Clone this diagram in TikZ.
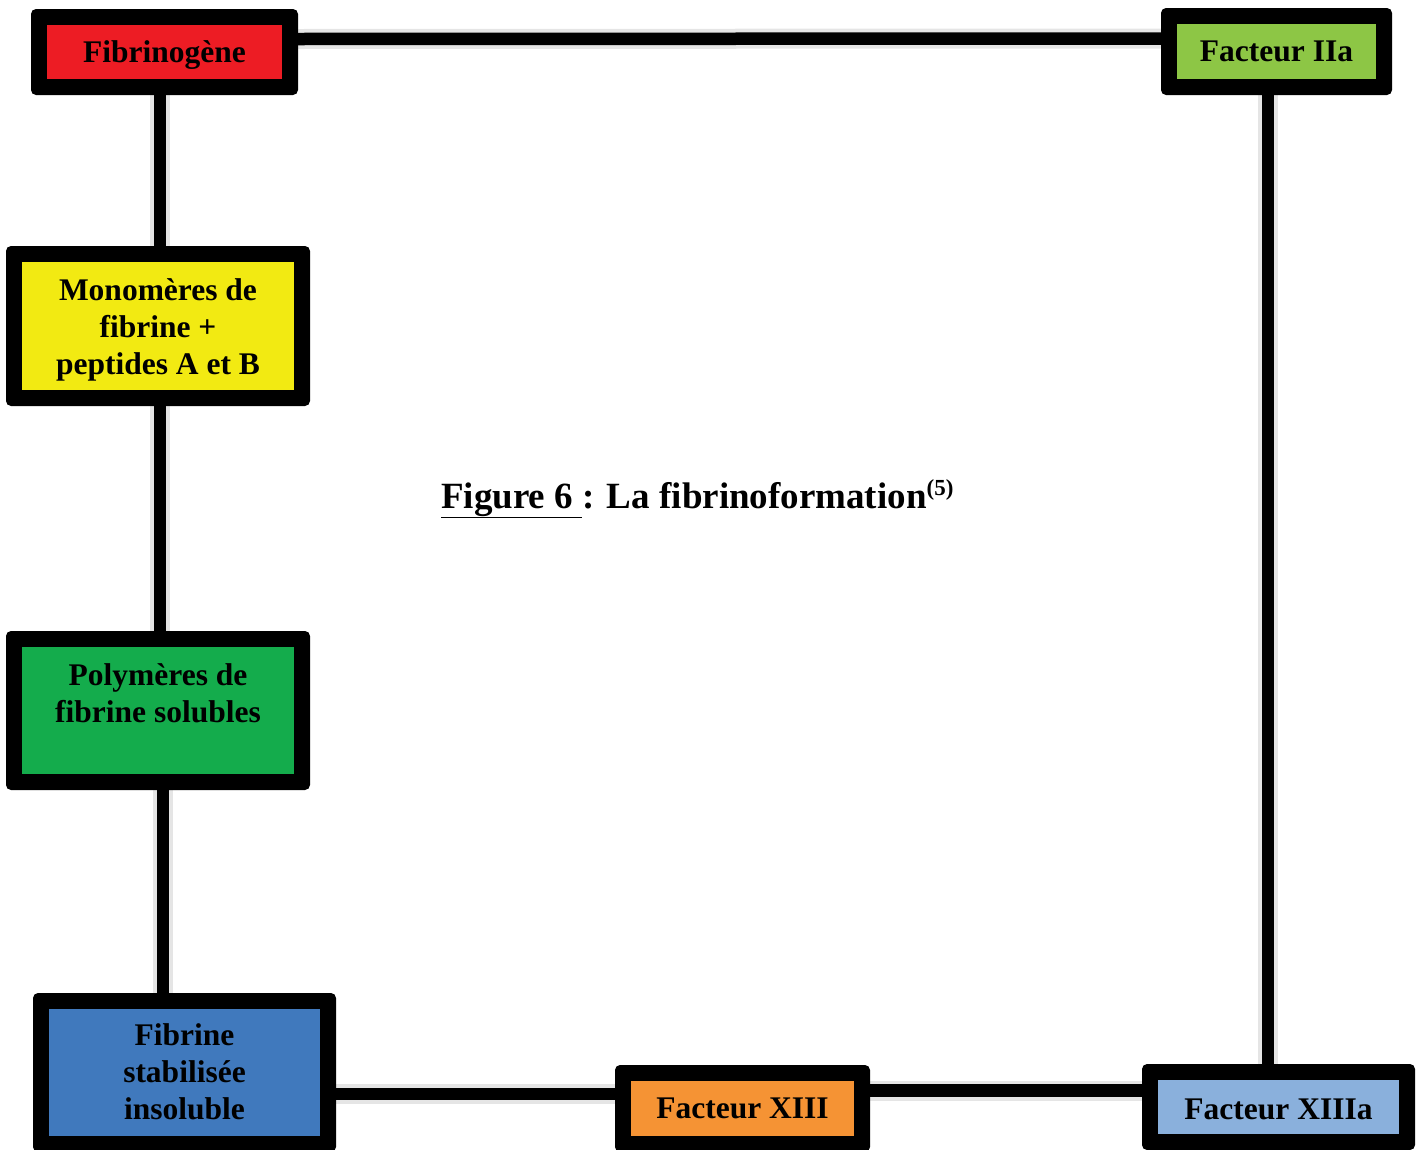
\documentclass[tikz,border=0pt]{standalone}
\usepackage{fontspec}
\setmainfont{Liberation Serif}
\usetikzlibrary{backgrounds}
\definecolor{cRed}{RGB}{237,28,36}
\definecolor{cLime}{RGB}{141,198,69}
\definecolor{cYel}{RGB}{242,234,18}
\definecolor{cGreen}{RGB}{20,172,76}
\definecolor{cBlue}{RGB}{64,121,189}
\definecolor{cOrange}{RGB}{245,147,52}
\definecolor{cSky}{RGB}{138,176,220}
\tikzset{
  boxst/.style={fill=black, rounded corners=5pt, inner sep=0pt,
    path picture={\fill[#1, sharp corners]
      ([shift={(16pt,16pt)}]path picture bounding box.south west)
      rectangle ([shift={(-16pt,-16pt)}]path picture bounding box.north east);}},
  txt/.style={align=center, inner sep=0pt, font=\fontsize{31.5}{37}\selectfont\bfseries},
  link/.style={line width=12.5pt, black, line cap=butt},
  shade/.style={line width=20pt, black, opacity=0.10, line cap=butt},
}
\begin{document}
\begin{tikzpicture}[x=1pt,y=-1pt]
\useasboundingbox (0,0) rectangle (1423,1149);
\clip (0,0) rectangle (1423,1149);
\node[boxst=cRed, minimum width=267pt, minimum height=86pt,
  label={[txt,yshift=-3pt]center:Fibrinogène}] (fibg) at (164.5,52) {};
\node[boxst=cLime, minimum width=231pt, minimum height=87pt,
  label={[txt]center:Facteur IIa}] (iia) at (1276.5,51.5) {};
\node[boxst=cYel, minimum width=304pt, minimum height=160pt,
  label={[txt,yshift=-4pt]center:Monomères de\\fibrine +\\peptides A et B}] (mono) at (158,326) {};
\node[boxst=cGreen, minimum width=304pt, minimum height=159pt,
  label={[txt,yshift=17pt]center:Polymères de\\fibrine solubles}] (poly) at (158,710.5) {};
\node[boxst=cBlue, minimum width=303pt, minimum height=159pt,
  label={[txt,yshift=1pt]center:Fibrine\\stabilisée\\insoluble}] (fstab) at (184.5,1072.5) {};
\node[boxst=cOrange, minimum width=255pt, minimum height=87pt,
  label={[txt]center:Facteur XIII}] (f13) at (742.5,1108.5) {};
\node[boxst=cSky, minimum width=273pt, minimum height=86pt,
  label={[txt,yshift=-2pt]center:Facteur XIIIa}] (f13a) at (1278.5,1107) {};
\node[font=\fontsize{37}{40}\selectfont\bfseries, anchor=base west, inner sep=0pt] (cap) at (441,508)
  {\underline{Figure 6 }: La fibrinoformation\raisebox{13pt}{\fontsize{23}{24}\selectfont(5)}};
\begin{scope}[on background layer]
  \begin{scope}[xshift=2pt,yshift=-2pt]
  \draw[shade] ([yshift=13pt]fibg.east) -- ([yshift=13pt]iia.west);
  \draw[shade] ([xshift=2pt]mono.north |- fibg.south) -- ([xshift=2pt]mono.north);
  \draw[shade] ([xshift=2pt]mono.south) -- ([xshift=2pt]mono.south |- poly.north);
  \draw[shade] ([xshift=5pt]poly.south) -- ([xshift=5pt]poly.south |- fstab.north);
  \draw[shade] ([yshift=-21.5pt]fstab.east) -- ([yshift=-21.5pt]fstab.east -| f13.west);
  \draw[shade] ([yshift=18pt]f13.east) -- ([yshift=18pt]f13.east -| f13a.west);
  \draw[shade] ([xshift=-8.5pt]iia.south) -- ([xshift=-8.5pt]iia.south |- f13a.north);
  \end{scope}
  \draw[link] ([yshift=13pt]fibg.east) -- ([yshift=13pt]iia.west);
  \draw[link] ([xshift=2pt]mono.north |- fibg.south) -- ([xshift=2pt]mono.north);
  \draw[link] ([xshift=2pt]mono.south) -- ([xshift=2pt]mono.south |- poly.north);
  \draw[link] ([xshift=5pt]poly.south) -- ([xshift=5pt]poly.south |- fstab.north);
  \draw[link] ([yshift=-21.5pt]fstab.east) -- ([yshift=-21.5pt]fstab.east -| f13.west);
  \draw[link] ([yshift=18pt]f13.east) -- ([yshift=18pt]f13.east -| f13a.west);
  \draw[link] ([xshift=-8.5pt]iia.south) -- ([xshift=-8.5pt]iia.south |- f13a.north);
\end{scope}
\end{tikzpicture}
\end{document}
